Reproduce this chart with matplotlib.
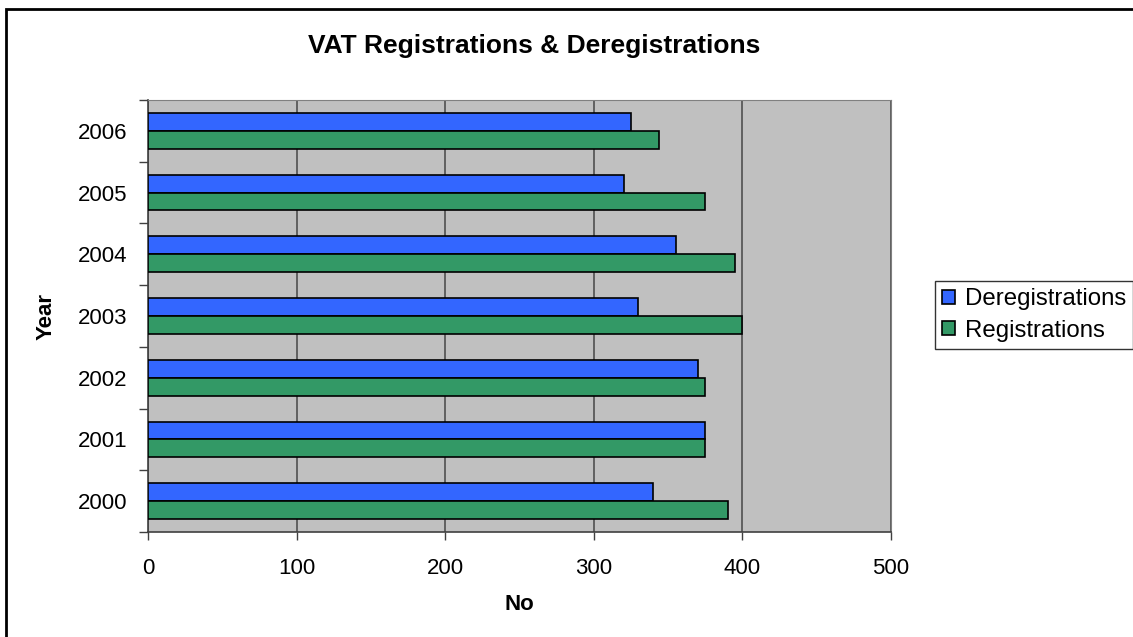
import matplotlib.pyplot as plt
import matplotlib.patches as patches
import numpy as np

years = ['2000', '2001', '2002', '2003', '2004', '2005', '2006']
deregistrations = [340, 375, 370, 330, 355, 320, 325]
registrations = [390, 375, 375, 400, 395, 375, 344]
x_ticks = [0, 100, 200, 300, 400, 500]

plt.rcParams['font.family'] = ['Liberation Sans', 'DejaVu Sans']

fig = plt.figure(figsize=(11.33, 6.37), dpi=100)
ax = fig.add_axes([148 / 1133, 1 - 532 / 637, (891 - 148) / 1133, 432 / 637])

pos = np.arange(len(years))
h = 0.29
ax.barh(pos + h / 2, deregistrations, height=h, color='#3366FF',
        edgecolor='black', linewidth=1.2, label='Deregistrations', zorder=3)
ax.barh(pos - h / 2, registrations, height=h, color='#339966',
        edgecolor='black', linewidth=1.2, label='Registrations', zorder=3)

ax.set_facecolor('#C0C0C0')
ax.set_xlim(0, 500)
ax.set_ylim(-0.5, len(years) - 0.5)
ax.set_xticks(x_ticks)
ax.set_xticklabels([str(t) for t in x_ticks], fontsize=16)
ax.set_yticks(pos)
ax.set_yticklabels(years, fontsize=16)
ax.set_yticks(np.arange(len(years) + 1) - 0.5, minor=True)
ax.tick_params(axis='y', which='major', length=0, pad=15)
ax.tick_params(axis='y', which='minor', length=6.5, width=1, color='#404040')
ax.tick_params(axis='x', which='major', length=6, width=1, color='#404040', pad=12.5)
ax.grid(axis='x', color='#505050', linewidth=1.2, zorder=1)

for s in ['top', 'right']:
    ax.spines[s].set_color('#808080')
for s in ['left', 'bottom']:
    ax.spines[s].set_color('#404040')
    ax.spines[s].set_linewidth(1.2)

ax.set_xlabel('No', fontsize=16, fontweight='bold', labelpad=11)
ax.set_ylabel('Year', fontsize=16, fontweight='bold', labelpad=15)
fig.text(534 / 1133, 1 - 46 / 637, 'VAT Registrations & Deregistrations',
         ha='center', va='center', fontsize=19, fontweight='bold')

leg = ax.legend(loc='upper left', bbox_to_anchor=(935 / 1133, 1 - 281 / 637),
                bbox_transform=fig.transFigure, fontsize=17.3, frameon=True,
                fancybox=False, edgecolor='black', handlelength=0.52,
                handleheight=0.52, handletextpad=0.42, borderpad=0.3,
                labelspacing=0.4, borderaxespad=0)
leg.get_frame().set_linewidth(1)

fig.patches.append(patches.Rectangle((6 / 1133, -0.01), 1.1, 1 - 9 / 637 + 0.01,
                                     transform=fig.transFigure, fill=False,
                                     edgecolor='black', linewidth=2))

fig.savefig('out.png', dpi=100)
